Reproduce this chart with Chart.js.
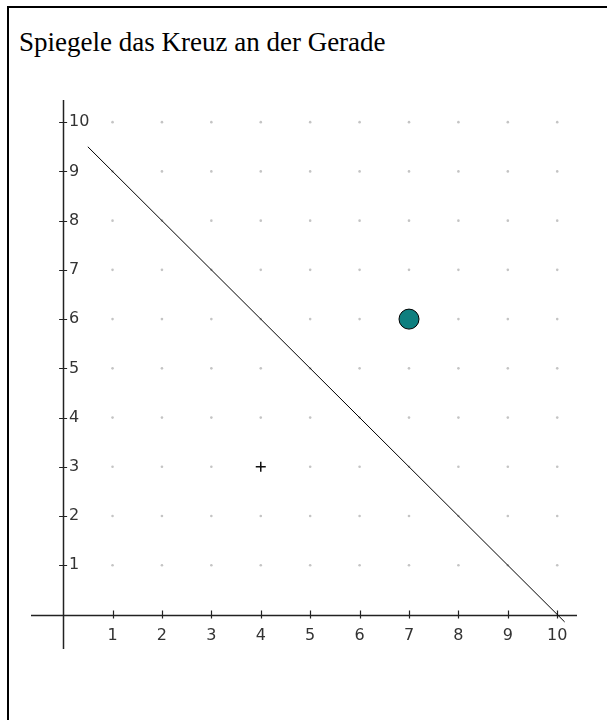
<!DOCTYPE html>
<html>
<head>
<meta charset="utf-8">
<script src="https://cdn.jsdelivr.net/npm/chart.js@4"></script>
<style>
  html, body { margin: 0; padding: 0; background: #fff; }
  body { width: 607px; height: 720px; position: relative; overflow: hidden; }
  #frame { position: absolute; left: 7px; top: 6px; width: 620px; height: 730px; border-left: 2px solid #000; border-top: 2px solid #000; }
  #title { position: absolute; left: 19px; top: 27px; font-family: "Liberation Serif", serif; font-size: 27px; color: #000; white-space: nowrap; }
  #wrap { position: absolute; left: 0; top: 0; width: 607px; height: 720px; }
</style>
</head>
<body>
<div id="frame"></div>
<div id="title">Spiegele das Kreuz an der Gerade</div>
<div id="wrap"><canvas id="c" width="607" height="720"></canvas></div>
<script>
// ---- data ----
const xTicks = [1, 2, 3, 4, 5, 6, 7, 8, 9, 10];
const yTicks = [1, 2, 3, 4, 5, 6, 7, 8, 9, 10];
const mirrorLineX = [0.5, 10.15];
const mirrorLineY = [9.5, -0.15];
const pointXY = [7, 6];
const crossXY = [4, 3];
const xRange = [-0.65, 10.4];
const yRange = [-0.7, 10.45];

const gridDots = [];
xTicks.forEach(x => yTicks.forEach(y => gridDots.push({ x: x, y: y })));

const axesPlugin = {
  id: 'axesPlugin',
  beforeDatasetsDraw(chart) {
    const ctx = chart.ctx;
    const xs = chart.scales.x, ys = chart.scales.y;
    const x0 = xs.getPixelForValue(0), y0 = ys.getPixelForValue(0);
    ctx.save();
    ctx.strokeStyle = '#222';
    ctx.lineWidth = 1.5;
    ctx.beginPath();
    ctx.moveTo(xs.left, Math.round(y0) + 0.5);
    ctx.lineTo(xs.right, Math.round(y0) + 0.5);
    ctx.moveTo(Math.round(x0) + 0.5, ys.top);
    ctx.lineTo(Math.round(x0) + 0.5, ys.bottom);
    ctx.stroke();
    ctx.lineWidth = 1.2;
    ctx.beginPath();
    xTicks.forEach(v => {
      const px = Math.round(xs.getPixelForValue(v)) + 0.5;
      ctx.moveTo(px, y0 - 4); ctx.lineTo(px, y0 + 4);
    });
    yTicks.forEach(v => {
      const py = Math.round(ys.getPixelForValue(v)) + 0.5;
      ctx.moveTo(x0 - 4, py); ctx.lineTo(x0 + 4, py);
    });
    ctx.stroke();
    ctx.fillStyle = '#333';
    ctx.font = '16px "DejaVu Sans", sans-serif';
    ctx.textAlign = 'center';
    ctx.textBaseline = 'middle';
    xTicks.forEach(v => ctx.fillText(String(v), xs.getPixelForValue(v), y0 + 21));
    ctx.textAlign = 'left';
    yTicks.forEach(v => ctx.fillText(String(v), x0 + 6, ys.getPixelForValue(v)));
    ctx.restore();
  }
};

new Chart(document.getElementById('c'), {
  type: 'scatter',
  data: {
    datasets: [
      { label: 'point', order: 1, data: [{ x: pointXY[0], y: pointXY[1] }], pointRadius: 10, pointBackgroundColor: '#0e7f7f', pointBorderColor: '#000', pointBorderWidth: 1 },
      { label: 'cross', order: 2, data: [{ x: crossXY[0], y: crossXY[1] }], pointStyle: 'cross', pointRadius: 5, borderColor: '#111', borderWidth: 1.5 },
      { label: 'line', order: 3, data: mirrorLineX.map((x, i) => ({ x: x, y: mirrorLineY[i] })), showLine: true, borderColor: '#000', borderWidth: 1, pointRadius: 0 },
      { label: 'grid', order: 4, data: gridDots, pointRadius: 1.3, pointBackgroundColor: '#c4c4c4', pointBorderWidth: 0, showLine: false }
    ]
  },
  options: {
    responsive: false,
    animation: false,
    events: [],
    layout: { padding: { left: 31, right: 30, top: 100, bottom: 71 } },
    plugins: { legend: { display: false }, tooltip: { enabled: false }, title: { display: false } },
    scales: {
      x: { type: 'linear', min: xRange[0], max: xRange[1], display: false },
      y: { type: 'linear', min: yRange[0], max: yRange[1], display: false }
    }
  },
  plugins: [axesPlugin]
});
</script>
</body>
</html>
